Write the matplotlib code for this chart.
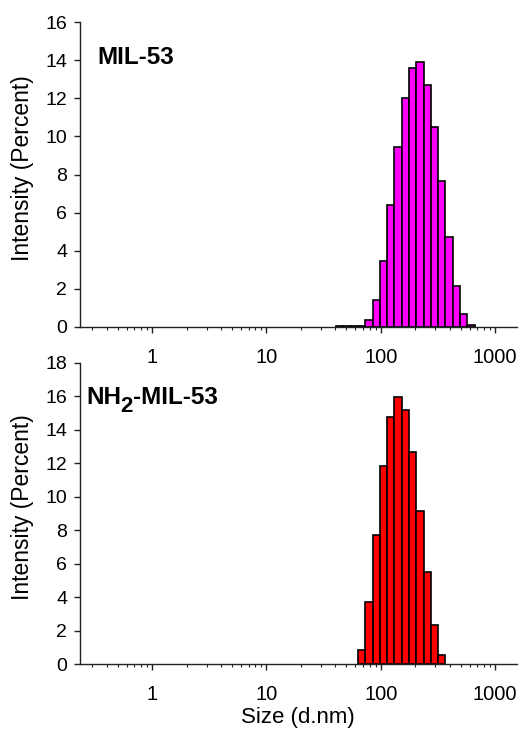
import numpy as np
import matplotlib
matplotlib.use('Agg')
import matplotlib.pyplot as plt
from matplotlib.ticker import FixedLocator, LogLocator, NullFormatter

plt.rcParams['font.family'] = ['Liberation Sans', 'DejaVu Sans']

# size classes (d.nm) and intensity (%)
sizes_top = [43.82, 50.75, 58.77, 68.06, 78.82, 91.28, 105.7, 122.4, 141.8, 164.2,
             190.1, 220.2, 255.0, 295.3, 342.0, 396.1, 458.7, 531.2, 615.1]
intensity_top = [0.05, 0.05, 0.05, 0.05, 0.35, 1.39, 3.47, 6.39, 9.44, 12.04,
                 13.6, 13.9, 12.7, 10.5, 7.65, 4.7, 2.16, 0.67, 0.08]

sizes_bot = [68.06, 78.82, 91.28, 105.7, 122.4, 141.8, 164.2, 190.1, 220.2,
             255.0, 295.3, 342.0]
intensity_bot = [0.84, 3.69, 7.73, 11.85, 14.78, 15.98, 15.18, 12.67, 9.16,
                 5.52, 2.35, 0.56]

xticks = [1, 10, 100, 1000]
xticklabels = ['1', '10', '100', '1000']

# zetasizer bins: 70 log-spaced classes from 0.4 to 10000 nm
step = (10000 / 0.4) ** (1 / 69)


def draw(ax, sizes, vals, color, ymax):
    c = np.array(sizes)
    left = c / np.sqrt(step)
    right = c * np.sqrt(step)
    ax.bar(left, vals, width=right - left, align='edge', color=color,
           edgecolor='black', linewidth=1.2)
    ax.set_xscale('log')
    ax.set_xlim(0.233, 1550)
    ax.set_ylim(0, ymax)
    ax.set_yticks(np.arange(0, ymax + 1, 2))
    ax.xaxis.set_major_locator(FixedLocator(xticks))
    ax.set_xticklabels(xticklabels)
    ax.xaxis.set_minor_locator(LogLocator(base=10, subs=np.arange(2, 10)))
    ax.xaxis.set_minor_formatter(NullFormatter())
    for s in ['top', 'right']:
        ax.spines[s].set_visible(False)
    for s in ['left', 'bottom']:
        ax.spines[s].set_color('#222222')
        ax.spines[s].set_linewidth(1.0)
    ax.tick_params(axis='y', direction='out', length=4, width=1, pad=5,
                   labelsize=14, color='#222222')
    ax.tick_params(axis='x', which='major', direction='out', length=4, width=1,
                   pad=11, labelsize=14.5, color='#222222')
    ax.tick_params(axis='x', which='minor', direction='out', length=2.5, width=0.8,
                   color='#222222')
    ax.set_ylabel('Intensity (Percent)', fontsize=16.5)
    ax.yaxis.set_label_coords(-0.106, 0.52)


fig = plt.figure(figsize=(5.22, 7.33), dpi=100)
ax1 = fig.add_axes([0.153, 0.554, 0.837, 0.4157])
ax2 = fig.add_axes([0.153, 0.0941, 0.837, 0.4111])

draw(ax1, sizes_top, intensity_top, '#ff00ff', 16)
draw(ax2, sizes_bot, intensity_bot, '#ff0000', 18)

ax1.text(0.041, 0.885, 'MIL-53', transform=ax1.transAxes,
         fontsize=17.5, fontweight='bold', va='center', ha='left')

# NH2-MIL-53 with a full-size, lowered "2"
t1 = ax2.text(0.016, 0.885, 'NH', transform=ax2.transAxes,
              fontsize=17.5, fontweight='bold', va='center', ha='left')
t2 = ax2.annotate('2', xy=(1, 0), xycoords=t1, xytext=(-0.8, -6),
                  textcoords='offset points', fontsize=16, fontweight='bold',
                  va='bottom', ha='left')
ax2.annotate('-MIL-53', xy=(1, 0), xycoords=t2, xytext=(0, 6),
             textcoords='offset points', fontsize=17.5, fontweight='bold',
             va='bottom', ha='left')

ax2.set_xlabel('Size (d.nm)', fontsize=16, labelpad=2)

fig.savefig('out.png', dpi=100)
